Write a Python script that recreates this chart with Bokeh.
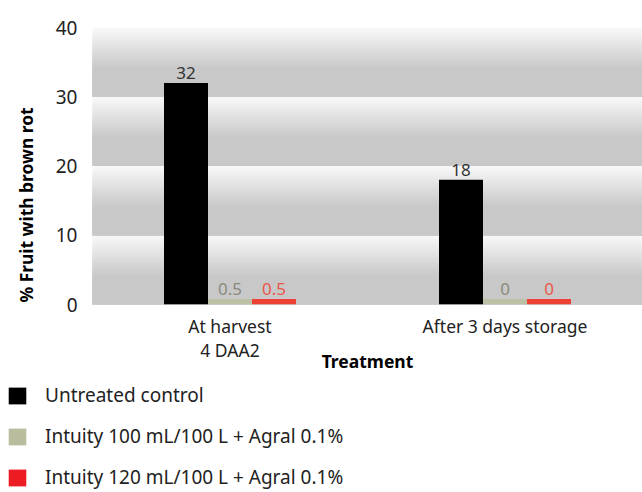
from bokeh.plotting import figure
from bokeh.models import (ColumnDataSource, FactorRange, FixedTicker, BoxAnnotation,
                          LabelSet, Legend, LegendItem, Title)
from bokeh.core.properties import value
from bokeh.transform import dodge
from bokeh.embed import file_html
from bokeh.resources import INLINE

# ---- data ----
categories = ["At harvest\n4 DAA2", "After 3 days storage"]
series = ["Untreated control",
          "Intuity 100 mL/100 L + Agral 0.1%",
          "Intuity 120 mL/100 L + Agral 0.1%"]
# bar heights as drawn in the picture (small values drawn with a minimum visible height)
untreated = [32, 18]
intuity100 = [0.8, 0.8]
intuity120 = [0.8, 0.8]
# value labels printed above bars
untreated_lbl = ["32", "18"]
intuity100_lbl = ["0.5", "0"]
intuity120_lbl = ["0.5", "0"]
y_ticks = [0, 10, 20, 30, 40]

FONT = "Noto Sans"
bar_colors = ["#000000", "#bcc0a4", "#ee4136"]
legend_colors = ["#000000", "#b9bd9d", "#ed1c24"]
label_colors = ["#333333", "#8b8b7d", "#e9574c"]

W = 642
H1 = 376
H2 = 116

p = figure(x_range=FactorRange(factors=categories), y_range=(0, 40),
           width=W, height=H1, output_backend="svg", toolbar_location=None,
           min_border_left=88, min_border_right=0, min_border_top=27,
           min_border_bottom=H1 - 27 - 277, outline_line_color=None,
           background_fill_color="white", border_fill_color="white")
p.xgrid.visible = False
p.ygrid.visible = False

# gradient bands between gridlines (stacked, lightest/tallest first to avoid seams)
def mix(c1, c2, t):
    return "#%02x%02x%02x" % tuple(int(round(a + (b - a) * t)) for a, b in zip(c1, c2))

light = (248, 248, 248)
dark = (200, 200, 200)
nstrip = 30
for k in range(len(y_ticks) - 1):
    lo, hi = y_ticks[k], y_ticks[k + 1]
    grad = 0.58 * (hi - lo)
    step = grad / nstrip
    for i in range(nstrip + 1):
        top = hi - i * step
        t = min(1.0, i / nstrip)
        p.add_layout(BoxAnnotation(bottom=lo, top=top, fill_color=mix(light, dark, t),
                                   fill_alpha=1, line_alpha=0, line_width=0, level="underlay"))

src = ColumnDataSource(data=dict(cat=categories, u=untreated, i100=intuity100, i120=intuity120,
                                 ul=untreated_lbl, l100=intuity100_lbl, l120=intuity120_lbl))
w = 0.16
cols = [("u", "ul", -w), ("i100", "l100", 0.0), ("i120", "l120", w)]
for (col, lcol, off), c, lc in zip(cols, bar_colors, label_colors):
    p.vbar(x=dodge("cat", off, range=p.x_range), top=col, width=w, source=src,
           fill_color=c, line_color=None)
    p.add_layout(LabelSet(x=dodge("cat", off, range=p.x_range), y=col, text=lcol, source=src,
                          text_align="center", text_baseline="bottom", y_offset=4,
                          text_font=value(FONT), text_font_size=value("17px"),
                          text_color=value(lc)))

# axes
p.yaxis.ticker = FixedTicker(ticks=y_ticks)
p.yaxis.axis_line_color = None
p.yaxis.major_tick_line_color = None
p.yaxis.minor_tick_line_color = None
p.yaxis.major_label_text_font = FONT
p.yaxis.major_label_text_font_size = "19px"
p.yaxis.major_label_text_color = "#222222"
p.yaxis.major_label_standoff = 9

p.add_layout(Title(text="% Fruit with brown rot", align="left", offset=2,
                   vertical_align="top",
                   text_font=FONT, text_font_size="17.4px", text_font_style="bold",
                   text_color="#000000", standoff=26), "left")

p.xaxis.axis_line_color = None
p.xaxis.major_tick_line_color = None
p.xaxis.minor_tick_line_color = None
p.xaxis.major_label_text_font = FONT
p.xaxis.major_label_text_font_size = "17.5px"
p.xaxis.major_label_text_line_height = 1.0
p.xaxis.major_label_text_color = "#222222"
p.xaxis.major_label_standoff = 3
p.xaxis.axis_label = "Treatment"
p.xaxis.axis_label_text_font = FONT
p.xaxis.axis_label_text_font_size = "17.5px"
p.xaxis.axis_label_text_font_style = "bold"
p.xaxis.axis_label_text_color = "#000000"
p.xaxis.axis_label_standoff = -16

# legend strip (separate root, no axes); legend renderers have zero width so only the key shows
p2 = figure(x_range=FactorRange(factors=categories), y_range=(0, 40),
            width=W, height=H2, output_backend="svg", toolbar_location=None,
            x_axis_location=None, y_axis_location=None, min_border=0,
            outline_line_color=None)
p2.xgrid.visible = False
p2.ygrid.visible = False
items = []
for (col, lcol, off), lgc, name in zip(cols, legend_colors, series):
    lr = p2.vbar(x=dodge("cat", off, range=p2.x_range), top=col, width=0, source=src,
                 fill_color=lgc, line_color=None)
    items.append(LegendItem(label=name, renderers=[lr]))
legend = Legend(items=items, location=(6, 2), orientation="vertical",
                glyph_width=22, glyph_height=21, label_height=21, spacing=15,
                label_standoff=17, padding=0, margin=0, border_line_color=None,
                background_fill_alpha=0, label_text_font=FONT,
                label_text_font_size="19px", label_text_color="#222222")
p2.add_layout(legend, "center")

open("out.html", "w").write(file_html([p, p2], INLINE))
